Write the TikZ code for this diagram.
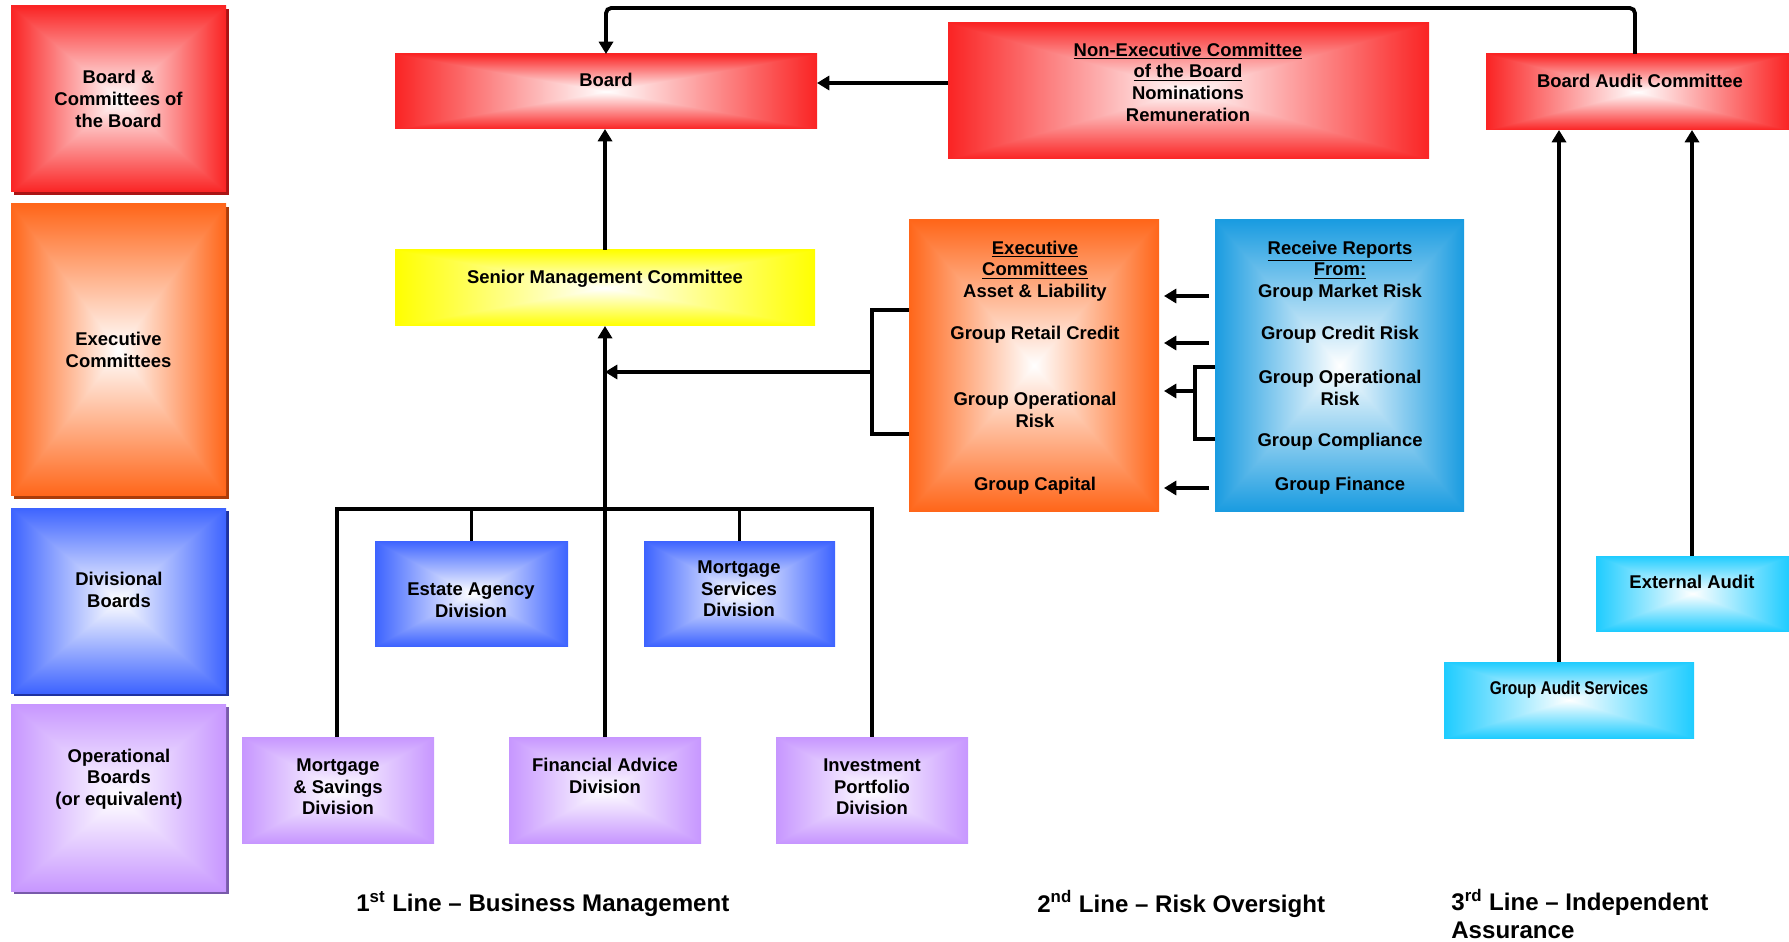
\documentclass[tikz,border=0pt]{standalone}
\usepackage{fontspec}
\setmainfont{Liberation Sans}
\newfontfamily\narrowf{Liberation Sans}[FakeStretch=0.84]
\usetikzlibrary{arrows.meta}
% box gradient: white centre to colour at edges; args: name, 1-r, 1-g, 1-b
\newcommand\declboxshade[4]{%
\pgfdeclarefunctionalshading{#1}{\pgfpoint{0bp}{0bp}}{\pgfpoint{100bp}{100bp}}{}{
 50 sub abs exch 50 sub abs 2 copy lt {exch} if pop 25 div dup 1 gt {pop 1} if
 dup dup #4 mul neg 1 add exch #3 mul neg 1 add exch 3 -1 roll #2 mul neg 1 add 3 1 roll
}}
\declboxshade{shRed}{0.02}{0.86}{0.86}
\declboxshade{shOrange}{0}{0.6}{0.9}
\declboxshade{shBlue}{0.76}{0.61}{0}
\declboxshade{shPurple}{0.22}{0.41}{0}
\declboxshade{shYellow}{0}{0}{1}
\declboxshade{shRR}{0.9}{0.39}{0.12}
\declboxshade{shCyan}{0.88}{0.2}{0}
\definecolor{redD}{RGB}{170,20,20}
\definecolor{orangeD}{RGB}{170,60,10}
\definecolor{blueD}{RGB}{30,50,160}
\definecolor{purpleD}{RGB}{120,90,170}
\newcommand\mybox[6]{\node[box,shading=#6,minimum width={(#4-#2)*0.02cm},minimum height={(#5-#3)*0.02cm}] (#1) at ({(#2+#4)/2},{(#3+#5)/2}) {};}
\newcommand\myshadow[5]{\fill[#5] ({#1+3},{#2+3}) rectangle ({#3+3},{#4+3});}
\begin{document}
\begin{tikzpicture}[x=0.02cm,y=-0.02cm,
 box/.style={rectangle,inner sep=0pt,outer sep=0pt},
 txt/.style={font=\bfseries\fontsize{10.5}{12.3}\selectfont,align=center,inner sep=0pt},
 ntxt/.style={font=\narrowf\bfseries\fontsize{10.5}{12.3}\selectfont,align=center,inner sep=0pt},
 btxt/.style={font=\bfseries\fontsize{13.7}{16}\selectfont,inner sep=0pt},
 ln/.style={line width=2.2pt},
 arr/.style={line width=2.2pt,-{Triangle[length=7pt,width=8pt]}},
]
\useasboundingbox (0,0) rectangle (1789,942);
% legend column
\myshadow{11}{6}{226}{192}{redD}
\mybox{lg1}{11}{6}{226}{192}{shRed}
\myshadow{11}{204}{226}{496}{orangeD}
\mybox{lg2}{11}{204}{226}{496}{shOrange}
\myshadow{11}{508}{226}{693}{blueD}
\mybox{lg3}{11}{508}{226}{693}{shBlue}
\myshadow{11}{704}{226}{891}{purpleD}
\mybox{lg4}{11}{704}{226}{891}{shPurple}
\node[txt] (tlg1) at (lg1) {Board \&\\Committees of\\the Board};
\node[txt] (tlg2) at (lg2) {Executive\\Committees};
\node[txt] (tlg3) at (119,590) {Divisional\\Boards};
\node[txt] (tlg4) at (119,779) {Operational\\Boards\\(or equivalent)};
% boxes
\mybox{board}{395}{54}{817}{129}{shRed}
\mybox{nonexec}{948}{23}{1429}{159}{shRed}
\mybox{bac}{1486}{54}{1789}{130}{shRed}
\mybox{senior}{395}{250}{815}{326}{shYellow}
\mybox{exec}{909}{220}{1159}{511}{shOrange}
\mybox{rr}{1215}{220}{1464}{511}{shRR}
\mybox{ead}{375}{541}{568}{646}{shBlue}
\mybox{msvd}{644}{541}{835}{646}{shBlue}
\mybox{msd}{242}{737}{434}{843}{shPurple}
\mybox{fad}{509}{737}{701}{843}{shPurple}
\mybox{ipd}{776}{737}{968}{843}{shPurple}
\mybox{ext}{1596}{556}{1789}{631}{shCyan}
\mybox{gas}{1444}{662}{1694}{738}{shCyan}
% texts
\node[txt] (tboard) at (606,80) {Board};
\node[txt] (tnonexec) at (1188,82) {\underline{Non-Executive Committee}\\\underline{of the Board}\\Nominations\\Remuneration};
\node[txt] (tbac) at (1640,81) {Board Audit Committee};
\node[txt] (tsenior) at (605,279) {Senior Management Committee};
\node[txt] (te1) at (1035,271) {\underline{Executive}\\\underline{Committees}\\Asset \& Liability};
\node[txt] (te2) at (1035,335) {Group Retail Credit};
\node[txt] (te3) at (1035,410) {Group Operational\\Risk};
\node[txt] (te4) at (1035,486) {Group Capital};
\node[txt] (tr1) at (1340,271) {\underline{Receive Reports}\\\underline{From:}\\Group Market Risk};
\node[txt] (tr2) at (1340,335) {Group Credit Risk};
\node[txt] (tr3) at (1340,388) {Group Operational\\Risk};
\node[txt] (tr4) at (1340,442) {Group Compliance};
\node[txt] (tr5) at (1340,486) {Group Finance};
\node[txt] (tead) at (471,600) {Estate Agency\\Division};
\node[txt] (tmsvd) at (739,589) {Mortgage\\Services\\Division};
\node[txt] (tmsd) at (338,787) {Mortgage\\\& Savings\\Division};
\node[txt] (tfad) at (605,776) {Financial Advice\\Division};
\node[txt] (tipd) at (872,787) {Investment\\Portfolio\\Division};
\node[txt] (text) at (1692,582) {External Audit};
\node[ntxt] (tgas) at (1569,690) {Group Audit Services};
\node[btxt,anchor=west] (l1) at (356,904) {1\textsuperscript{st} Line -- Business Management};
\node[btxt,anchor=west] (l2) at (1037,904) {2\textsuperscript{nd} Line -- Risk Oversight};
\node[btxt,anchor=north west,align=left] (l3) at (1451,889) {3\textsuperscript{rd} Line -- Independent\\Assurance};
% connectors
\coordinate (hub) at (605,509);
\coordinate (bk1) at (872,310);
\coordinate (bk2) at (872,434);
\coordinate (bkm) at (872,372);
\coordinate (rb1) at (1195,367);
\coordinate (rb2) at (1195,439);
\coordinate (rbm) at (1195,391);
\draw[arr,rounded corners=3pt] (bac.north -| 1635,0) -- (1635,8) -| (board.north);
\draw[arr] (nonexec.west |- 0,83) -- (board.east |- 0,83);
\draw[arr] (senior.north) -- (senior.north |- board.south);
\draw[arr] (hub) -- (senior.south);
\draw[ln] (msd.north -| 337,0) -- (337,509) -- (ipd.north |- hub) -- (ipd.north);
\draw[ln] (fad.north) -- (hub);
\draw[ln] (ead.north) -- (ead.north |- hub);
\draw[ln] (msvd.north) -- (msvd.north |- hub);
\draw[ln] (exec.west |- bk1) -- (bk1) -- (bk2) -- (exec.west |- bk2);
\draw[arr] (bkm) -- (hub |- bkm);
\draw[ln] (rr.west |- rb1) -- (rb1) -- (rb2) -- (rr.west |- rb2);
\draw[arr] (rbm) -- ([xshift=5*0.02cm]exec.east |- rbm);
\foreach \yy in {296,343,488}{
  \draw[arr] ([xshift=-6*0.02cm]rr.west |- 0,\yy) -- ([xshift=5*0.02cm]exec.east |- 0,\yy);
}
\draw[arr] (gas.north -| 1559,0) -- (bac.south -| 1559,0);
\draw[arr] (ext.north -| 1692,0) -- (bac.south -| 1692,0);
\end{tikzpicture}
\end{document}
